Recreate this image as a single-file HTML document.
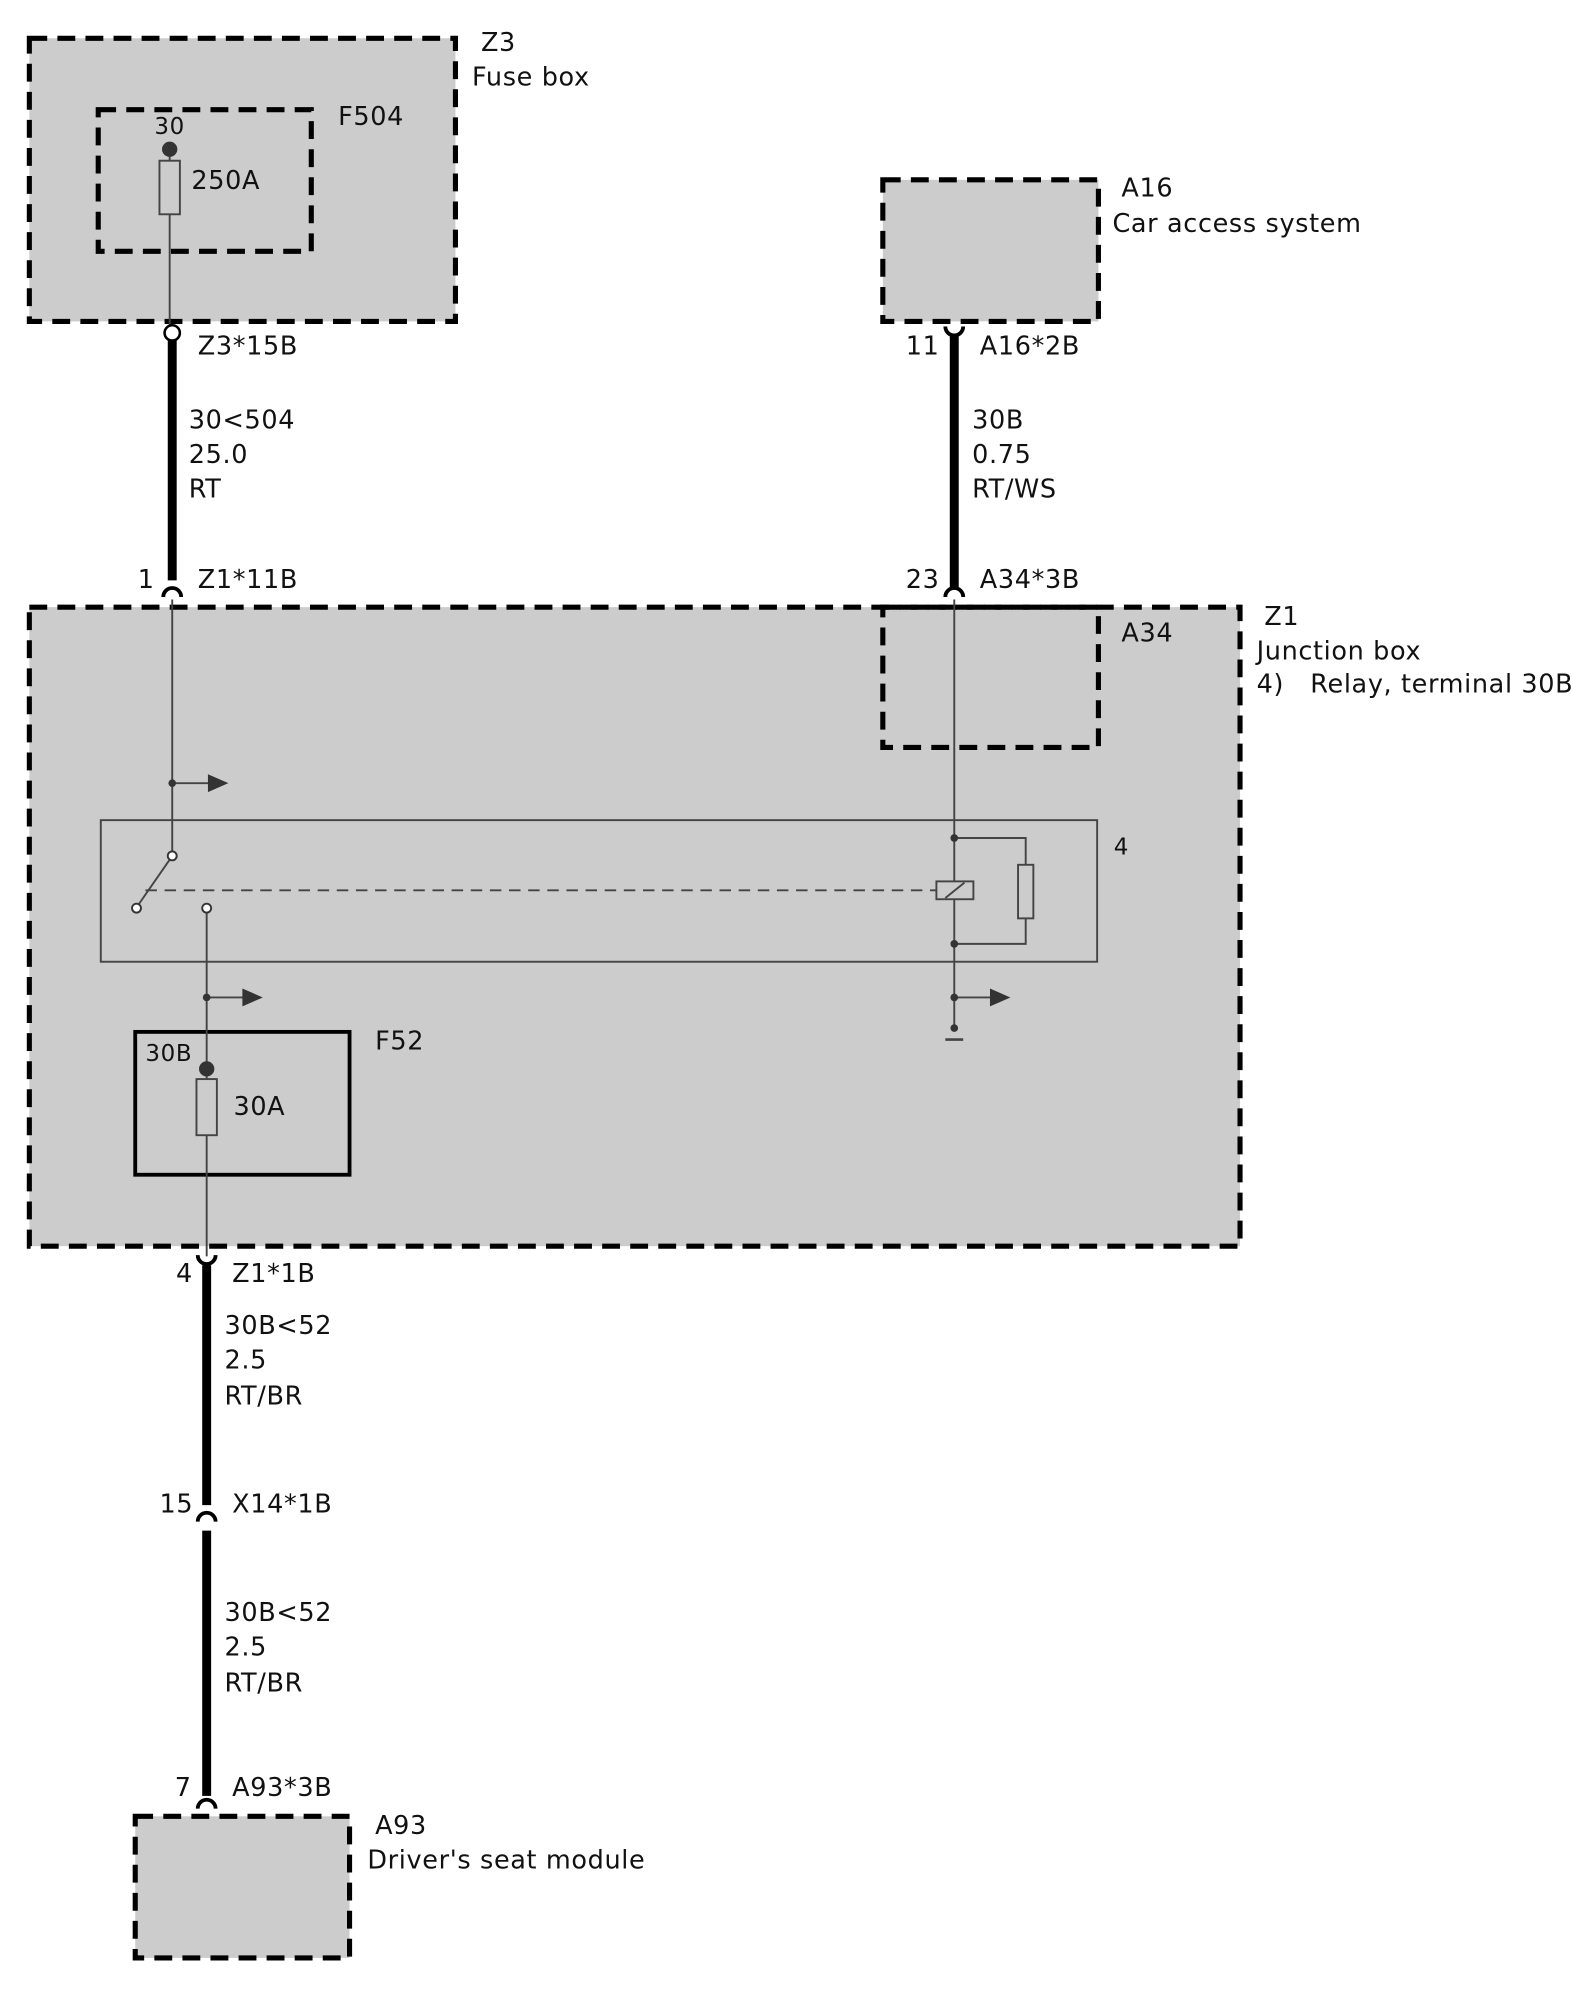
<!DOCTYPE html>
<html><head><meta charset="utf-8"><style>
html,body{margin:0;padding:0;background:#fff;}
svg{display:block;}
text{font-family:"DejaVu Sans","Liberation Sans",sans-serif;font-size:20px;fill:#111;letter-spacing:0.5px;}
</style></head><body>
<svg width="1573" height="2000" viewBox="0 0 1233 1568" preserveAspectRatio="none" xmlns="http://www.w3.org/2000/svg">
<g stroke="#000" stroke-width="4" stroke-dasharray="14,8" fill="#cccccc">
<rect x="23" y="30" width="334" height="222"/>
<rect x="692" y="141" width="169" height="111"/>
<rect x="23" y="476" width="949" height="501"/>
<rect x="106" y="1424" width="168" height="111"/>
</g>
<g stroke="#000" stroke-width="4" stroke-dasharray="14,8" fill="none">
<rect x="77" y="86" width="167" height="111"/>
<rect x="692" y="476" width="169" height="110"/>
</g>
<rect x="106" y="809" width="168" height="112" fill="none" stroke="#000" stroke-width="3"/>
<rect x="79" y="643" width="781" height="111" fill="none" stroke="#444" stroke-width="1.5"/>
<g stroke="#444" stroke-width="1.5" fill="none">
<line x1="133" y1="117" x2="133" y2="255"/>
<rect x="125" y="126" width="16" height="42" fill="#ccc"/>
<line x1="135" y1="470" x2="135" y2="668"/>
<line x1="135" y1="614" x2="165" y2="614"/>
<line x1="133" y1="674" x2="108" y2="710"/>
<line x1="162" y1="715" x2="162" y2="985"/>
<line x1="162" y1="782" x2="192" y2="782"/>
<rect x="154" y="846" width="16" height="44" fill="#ccc"/>
<line x1="748" y1="470" x2="748" y2="808"/>
<polyline points="748,657 804,657 804,740 748,740"/>
<rect x="798" y="678" width="12" height="42" fill="#ccc"/>
<rect x="734" y="691" width="29" height="14" fill="#ccc"/>
<line x1="741" y1="704" x2="756" y2="692"/>
<line x1="114" y1="698" x2="734" y2="698" stroke-dasharray="9,6"/>
<line x1="748" y1="782" x2="778" y2="782"/>
<line x1="741" y1="815" x2="755" y2="815" stroke-width="2"/>
</g>
<g fill="#333">
<polygon points="163,607 179,614 163,621"/>
<polygon points="190,775 206,782 190,789"/>
<polygon points="776,775 792,782 776,789"/>
<circle cx="133" cy="117" r="6"/><circle cx="162" cy="838" r="6"/>
<circle cx="135" cy="614" r="3"/><circle cx="162" cy="782" r="3"/>
<circle cx="748" cy="657" r="3"/><circle cx="748" cy="740" r="3"/>
<circle cx="748" cy="782" r="3"/><circle cx="748" cy="806" r="3"/>
</g>
<g fill="#fff" stroke="#333" stroke-width="1.5">
<circle cx="135" cy="671" r="3.5"/><circle cx="107" cy="712" r="3.5"/><circle cx="162" cy="712" r="3.5"/>
</g>
<g stroke="#000" stroke-width="7">
<line x1="135" y1="267" x2="135" y2="455"/>
<line x1="748" y1="262" x2="748" y2="462"/>
<line x1="162" y1="992" x2="162" y2="1180"/>
<line x1="162" y1="1200" x2="162" y2="1408"/>
</g>
<circle cx="135" cy="261" r="6" fill="#fff" stroke="#000" stroke-width="2"/>
<g stroke="#000" stroke-width="3" fill="none">
<path d="M128,468 A7,7 0 0 1 142,468"/>
<path d="M741,468 A7,7 0 0 1 755,468"/>
<path d="M741,256 A7,7 0 0 0 755,256"/>
<path d="M155,984 A7,7 0 0 0 169,984"/>
<path d="M155,1193 A7,7 0 0 1 169,1193"/>
<path d="M155,1418 A7,7 0 0 1 169,1418"/>
</g>
<text x="377" y="40">Z3</text><text x="370" y="67">Fuse box</text>
<text x="265" y="98">F504</text>
<text x="121" y="105" style="font-size:18px">30</text>
<text x="150" y="148">250A</text>
<text x="155" y="278">Z3*15B</text>
<text x="148" y="336">30&lt;504</text><text x="148" y="363">25.0</text><text x="148" y="390">RT</text>
<text x="108" y="461">1</text><text x="155" y="461">Z1*11B</text>
<text x="879" y="154">A16</text><text x="872" y="182">Car access system</text>
<text x="710" y="278">11</text><text x="768" y="278">A16*2B</text>
<text x="762" y="336">30B</text><text x="762" y="363">0.75</text><text x="762" y="390">RT/WS</text>
<text x="710" y="461">23</text><text x="768" y="461">A34*3B</text>
<text x="879" y="503">A34</text>
<text x="991" y="490">Z1</text><text x="985" y="517">Junction box</text>
<text x="985" y="543">4)&#160;&#160;&#160;Relay, terminal 30B</text>
<text x="873" y="670" style="font-size:18px">4</text>
<text x="114" y="832" style="font-size:18px">30B</text>
<text x="183" y="874">30A</text>
<text x="294" y="823">F52</text>
<text x="138" y="1005">4</text><text x="182" y="1005">Z1*1B</text>
<text x="176" y="1046">30B&lt;52</text><text x="176" y="1073">2.5</text><text x="176" y="1101">RT/BR</text>
<text x="125" y="1186">15</text><text x="182" y="1186">X14*1B</text>
<text x="176" y="1271">30B&lt;52</text><text x="176" y="1298">2.5</text><text x="176" y="1326">RT/BR</text>
<text x="137" y="1408">7</text><text x="182" y="1408">A93*3B</text>
<text x="294" y="1438">A93</text><text x="288" y="1465">Driver's seat module</text>
</svg>
</body></html>
